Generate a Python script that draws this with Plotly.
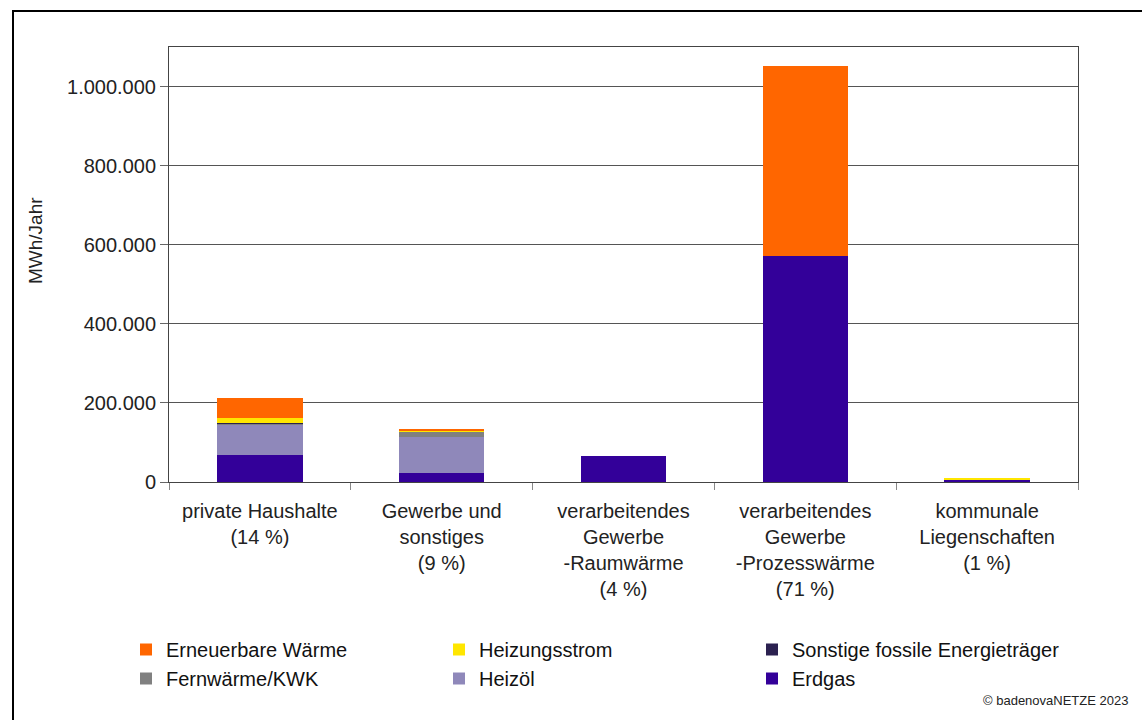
import plotly.graph_objects as go

# Wärmebedarf nach Sektoren (MWh/Jahr)
categories = [
    "private Haushalte<br>(14 %)",
    "Gewerbe und<br>sonstiges<br>(9 %)",
    "verarbeitendes<br>Gewerbe<br>-Raumwärme<br>(4 %)",
    "verarbeitendes<br>Gewerbe<br>-Prozesswärme<br>(71 %)",
    "kommunale<br>Liegenschaften<br>(1 %)",
]

erdgas = [69000, 23500, 65000, 572000, 6000]
heizoel = [77000, 90000, 0, 0, 1000]
fernwaerme = [3000, 13000, 0, 0, 0]
sonstige_fossile = [500, 500, 0, 0, 0]
heizungsstrom = [12000, 4000, 0, 0, 2500]
erneuerbare = [50000, 3500, 0, 481000, 0]

y_ticks = [0, 200000, 400000, 600000, 800000, 1000000]

# stacked bottom to top
series = [
    ("Erdgas", erdgas, "#330099"),
    ("Heizöl", heizoel, "#8F88BA"),
    ("Fernwärme/KWK", fernwaerme, "#808080"),
    ("Sonstige fossile Energieträger", sonstige_fossile, "#2B2150"),
    ("Heizungsstrom", heizungsstrom, "#FFE600"),
    ("Erneuerbare Wärme", erneuerbare, "#FF6600"),
]

fig = go.Figure()
for name, vals, color in series:
    fig.add_trace(go.Bar(
        x=categories, y=vals, name=name,
        marker=dict(color=color, line=dict(width=0)),
    ))

W, H = 1142, 720
ml, mr, mt, mb = 169, 64, 47, 238
pw, ph = W - ml - mr, H - mt - mb

def px_x(x):
    return (x - ml) / pw

def px_y(y):
    return (H - mb - y) / ph

fig.update_layout(
    width=W, height=H,
    margin=dict(l=ml, r=mr, t=mt, b=mb),
    barmode="stack",
    bargap=0.53,
    separators=",.",
    paper_bgcolor="white",
    plot_bgcolor="white",
    font=dict(family="Liberation Sans, Arial, sans-serif", size=20, color="#222222"),
    xaxis=dict(
        showline=True, linecolor="#444444", linewidth=1, mirror=True,
        ticks="outside", tickson="boundaries", ticklen=7, tickcolor="#888888",
        tickfont=dict(size=20),
        ticklabelstandoff=11,
    ),
    yaxis=dict(
        range=[0, 1100000],
        tickvals=y_ticks, tickformat=",d",
        showgrid=True, gridcolor="#555555", gridwidth=1,
        showline=True, linecolor="#444444", linewidth=1, mirror=True,
        ticks="outside", ticklen=8, tickcolor="#666666",
        tickfont=dict(size=20),
        zeroline=False,
    ),
    legend=dict(
        orientation="h", traceorder="reversed",
        x=px_x(126), y=px_y(630), xanchor="left", yanchor="top",
        entrywidth=268, entrywidthmode="pixels",
        itemwidth=30,
        font=dict(size=20, color="#111111"),
    ),
    showlegend=True,
)

# y-axis title
fig.add_annotation(
    text="MWh/Jahr", xref="paper", yref="paper",
    x=px_x(36), y=px_y(241), xanchor="center", yanchor="middle",
    textangle=-90, showarrow=False, font=dict(size=19, color="#222222"),
)

# outer frame
fig.add_shape(type="rect", xref="paper", yref="paper",
              x0=px_x(13), x1=px_x(1160), y0=px_y(740), y1=px_y(11),
              line=dict(color="black", width=2), layer="above")

fig.add_annotation(
    text="© badenovaNETZE 2023", xref="paper", yref="paper",
    x=px_x(1130), y=px_y(700), xanchor="right", yanchor="middle",
    showarrow=False, font=dict(size=13, color="#222222"),
)

fig.write_html("out.html")
